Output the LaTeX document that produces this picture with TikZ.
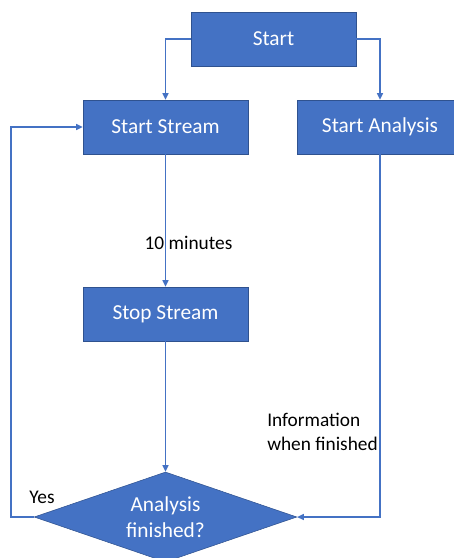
\documentclass[tikz,border=0pt]{standalone}
\usepackage{fontspec}
\setmainfont{Carlito}
\usetikzlibrary{shapes.geometric}
\usetikzlibrary{arrows.meta}
\definecolor{boxblue}{HTML}{4472C4}
\definecolor{boxedge}{HTML}{2F528F}

\begin{document}
\begin{tikzpicture}[x=0.75pt, y=-0.75pt]
        % ================= styles =================
        \tikzset{
            % blue process box, white text
            stepbox/.style={draw=boxedge, thin, fill=boxblue, text=white, font=\fontsize{16}{19}\selectfont,
                minimum width=123.75pt, minimum height=40.5pt, inner sep=0pt},
            % decision diamond (empty, text is put on as a centre label)
            decide/.style={diamond, draw=boxedge, thin, fill=boxblue,
                minimum width=197pt, minimum height=67.5pt, inner sep=0pt},
            decidetext/.style={text=white, align=center, font=\fontsize{16}{19}\selectfont, inner sep=0pt},
            % plain black labels
            note/.style={text=black, font=\fontsize{14.5}{17.5}\selectfont, inner sep=0pt},
            % connector
            flow/.style={draw=boxblue, line width=1.1pt, -{Triangle[length=5pt, width=4.5pt]}}
        }

        % fixes the page to the reference size
        \useasboundingbox (0,0) rectangle (454,558);

        % ================= nodes =================
        \node[stepbox] (start)    at (273.5, 39)  {Start};
        \node[stepbox] (stream)   at (165.5, 127) {Start Stream};
        \node[stepbox] (analysis) at (380, 127)   {Start Analysis};
        \node[stepbox] (stop)     at (165.5, 314) {Stop Stream};
        \node[decide, label={[decidetext]center:Analysis\\finished?}] (check) at (165.5, 517) {};

        \coordinate (loop) at (11, 517);

        % ================= connectors =================
        \draw[flow] (start.west) -| (stream.north);
        \draw[flow] (start.east) -| (analysis.north);
        \draw[flow] (stream.south) -- (stop.north);
        \draw[flow] (stop.south) -- (check.north);
        \draw[flow] (analysis.south) |- (check.east);
        \draw[flow] (check.west) -- (loop) |- (stream.west);

        % ================= labels =================
        \node[note] (wait) at (188.5, 243) {10 minutes};
        \node[note, anchor=west, align=left] (info) at (267, 432) {Information\\when finished};
        \node[note] (yes) at (42, 497) {Yes};

\end{tikzpicture}
\end{document}
